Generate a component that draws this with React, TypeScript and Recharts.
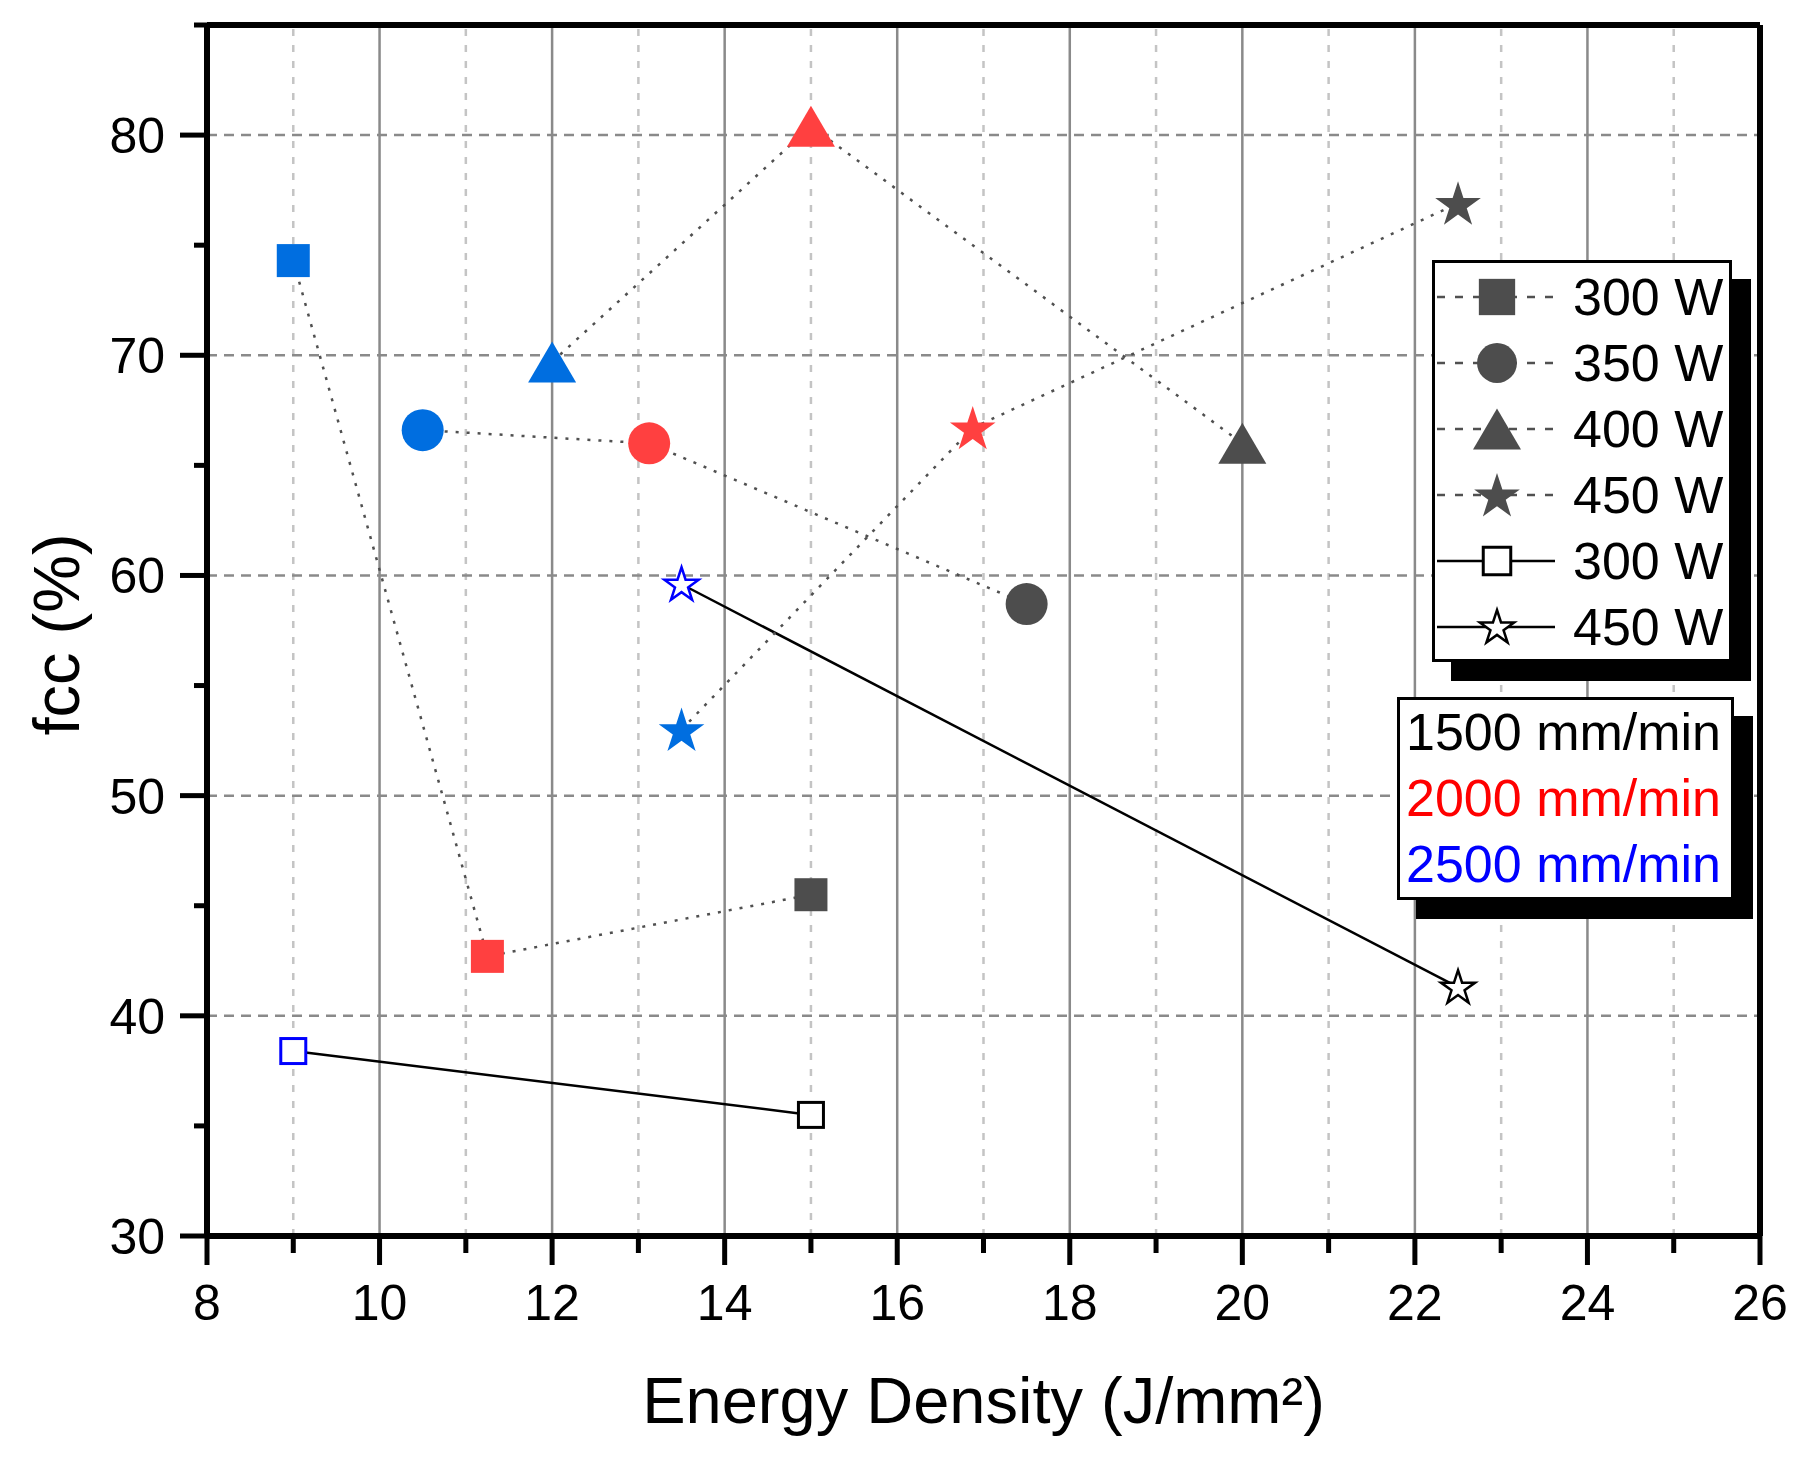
import React from 'react';
import { ScatterChart, Scatter, XAxis, YAxis, ReferenceLine, Legend, Label } from 'recharts';

const FONT = '"Liberation Sans", Arial, Helvetica, sans-serif';

// axis ticks
const xMajorTicks = [8, 10, 12, 14, 16, 18, 20, 22, 24, 26];
const xMinorTicks = [9, 11, 13, 15, 17, 19, 21, 23, 25];
const yMajorTicks = [30, 40, 50, 60, 70, 80];
const yMinorTicks = [35, 45, 55, 65, 75, 85];

// speed labels for the second legend
const speedLabels = ['1500 mm/min', '2000 mm/min', '2500 mm/min'];
const speedValues = [1500, 2000, 2500];

// filled symbols, points ordered 2500 -> 2000 -> 1500 mm/min
const pointSpeeds = [2500, 2000, 1500];
const p300Energy = [9, 11.25, 15];
const p300Fcc = [74.3, 42.7, 45.5];
const p350Energy = [10.5, 13.125, 17.5];
const p350Fcc = [66.6, 66.0, 58.7];
const p400Energy = [12, 15, 20];
const p400Fcc = [69.7, 80.4, 66.0];
const p450Energy = [13.5, 16.875, 22.5];
const p450Fcc = [53.0, 66.7, 76.9];

// open symbols, 2500 -> 1500 mm/min
const openSpeeds = [2500, 1500];
const o300Energy = [9, 15];
const o300Fcc = [38.4, 35.5];
const o450Energy = [13.5, 22.5];
const o450Fcc = [59.6, 41.3];

const powerLabels = ['300 W', '350 W', '400 W', '450 W', '300 W', '450 W'];

const toPoints = (energy: number[], fcc: number[], spd: number[]) =>
  energy.map((e, i) => ({ energy: e, fcc: fcc[i], speed: spd[i] }));

const fillBySpeed: Record<number, string> = { 1500: '#4d4d4d', 2000: '#ff4040', 2500: '#006ee0' };
const outlineBySpeed: Record<number, string> = { 1500: '#000000', 2000: '#ff0000', 2500: '#0000ff' };
const textBySpeed: Record<number, string> = { 1500: '#000000', 2000: '#ff0000', 2500: '#0000ff' };

const starPath = (cx: number, cy: number, R: number) => {
  const r = R * 0.382;
  let d = '';
  for (let k = 0; k < 10; k++) {
    const rad = k % 2 === 0 ? R : r;
    const a = -Math.PI / 2 + (k * Math.PI) / 5;
    d += (k === 0 ? 'M' : 'L') + (cx + rad * Math.cos(a)).toFixed(2) + ',' + (cy + rad * Math.sin(a)).toFixed(2);
  }
  return d + 'Z';
};

const Marker = ({ kind, cx, cy, color, legend }: any) => {
  const k = legend ? 1.1 : 1;
  if (kind === 'square') {
    const s = 33 * k;
    return <rect x={cx - s / 2} y={cy - s / 2} width={s} height={s} fill={color} />;
  }
  if (kind === 'circle') return <circle cx={cx} cy={cy} r={21 * (legend ? 0.95 : 1)} fill={color} />;
  if (kind === 'triangle') {
    const w = 48, h = 41;
    return <path d={`M${cx},${cy - h / 2}L${cx + w / 2},${cy + h / 2}L${cx - w / 2},${cy + h / 2}Z`} fill={color} />;
  }
  if (kind === 'star') return <path d={starPath(cx, cy + 2, 24)} fill={color} />;
  if (kind === 'osquare') {
    const s = 25 * k;
    return <rect x={cx - s / 2} y={cy - s / 2} width={s} height={s} fill="#fff" stroke={color} strokeWidth={3} />;
  }
  return <path d={starPath(cx, cy + 1, 18)} fill="#fff" stroke={color} strokeWidth={2.5} strokeLinejoin="miter" />;
};

const XTick = (props: any) => {
  const { x, y, payload } = props;
  const major = xMajorTicks.includes(payload.value);
  return (
    <g>
      <line x1={x} y1={y} x2={x} y2={y + (major ? 29 : 17)} stroke="#000" strokeWidth={5} />
      {major && (
        <text x={x} y={y + 84} textAnchor="middle" fontSize={50} fontFamily={FONT} fill="#000">
          {payload.value}
        </text>
      )}
    </g>
  );
};

const YTick = (props: any) => {
  const { x, y, payload } = props;
  const major = yMajorTicks.includes(payload.value);
  return (
    <g>
      <line x1={x} y1={y} x2={x - (major ? 27 : 13)} y2={y} stroke="#000" strokeWidth={5} />
      {major && (
        <text x={x - 42} y={y} dy="0.36em" textAnchor="end" fontSize={50} fontFamily={FONT} fill="#000">
          {payload.value}
        </text>
      )}
    </g>
  );
};

const XTitle = (props: any) => {
  const { viewBox } = props;
  return (
    <text x={viewBox.x + viewBox.width / 2} y={viewBox.y + 187} textAnchor="middle" fontSize={65} fontFamily={FONT} fill="#000">
      Energy Density (J/mm²)
    </text>
  );
};

const YTitle = (props: any) => {
  const { viewBox } = props;
  const cy = viewBox.y + viewBox.height / 2 + 4;
  return (
    <text x={71} y={cy} transform={`rotate(-90, 71, ${cy})`} textAnchor="middle" fontSize={65} fontFamily={FONT} fill="#000">
      fcc (%)
    </text>
  );
};

const legendKinds = ['square', 'circle', 'triangle', 'star', 'osquare', 'ostar'];

const renderLegend = () => (
  <div style={{ position: 'relative', fontFamily: FONT, color: '#000' }}>
    <div
      style={{
        position: 'absolute', left: 1424, top: 252, width: 300, height: 402,
        border: '3px solid #000', boxShadow: '19px 19px 0 #000', background: '#fff', boxSizing: 'border-box',
      }}
    >
      {powerLabels.map((label, i) => {
        const solid = i >= 4;
        return (
          <div key={i} style={{ position: 'absolute', left: 0, top: 34 + i * 66 - 33, height: 66, width: 294 }}>
            <svg width={130} height={66} style={{ position: 'absolute', left: 0, top: 0 }}>
              <line
                x1={2} y1={33} x2={120} y2={33}
                stroke={solid ? '#000' : '#505050'}
                strokeWidth={solid ? 2.5 : 2.5}
                strokeDasharray={solid ? undefined : '8 10'}
              />
              <Marker kind={legendKinds[i]} cx={62} cy={33} color={solid ? '#000' : '#4d4d4d'} legend />
            </svg>
            <div style={{ position: 'absolute', left: 138, top: 0, lineHeight: '66px', fontSize: 52, whiteSpace: 'nowrap' }}>{label}</div>
          </div>
        );
      })}
    </div>
    <div
      style={{
        position: 'absolute', left: 1389, top: 689, width: 337, height: 203,
        border: '3px solid #000', boxShadow: '19px 19px 0 #000', background: '#fff', boxSizing: 'border-box',
      }}
    >
      {speedLabels.map((label, i) => (
        <div
          key={label}
          style={{
            position: 'absolute', left: 6, top: 32 + i * 66 - 33, lineHeight: '66px',
            fontSize: 52, whiteSpace: 'nowrap', color: textBySpeed[speedValues[i]],
          }}
        >
          {label}
        </div>
      ))}
    </div>
  </div>
);

const dottedLine = { stroke: '#505050', strokeWidth: 2.5, strokeDasharray: '3 8' };
const solidLine = { stroke: '#000', strokeWidth: 2.5 };

const App = () => {
  const allXTicks = [...xMajorTicks, ...xMinorTicks].sort((a, b) => a - b);
  const allYTicks = [...yMajorTicks, ...yMinorTicks].sort((a, b) => a - b);

  const shapeFor = (kind: string, open?: boolean) => (p: any) =>
    <Marker kind={kind} cx={p.cx} cy={p.cy} color={open ? outlineBySpeed[p.payload.speed] : fillBySpeed[p.payload.speed]} />;

  return (
    <div style={{ width: 1790, height: 1440, background: '#fff' }}>
      <ScatterChart width={1790} height={1440} margin={{ top: 17, right: 38, bottom: 112, left: 79 }}>
        <XAxis
          type="number"
          dataKey="energy"
          domain={[8, 26]}
          ticks={allXTicks}
          interval={0}
          height={100}
          tickSize={0}
          tickMargin={0}
          tickLine={false}
          tick={<XTick />}
          axisLine={{ stroke: '#000', strokeWidth: 6 }}
          allowDataOverflow
        >
          <Label content={<XTitle />} />
        </XAxis>
        <YAxis
          type="number"
          dataKey="fcc"
          domain={[30, 85]}
          ticks={allYTicks}
          interval={0}
          width={120}
          tickSize={0}
          tickMargin={0}
          tickLine={false}
          tick={<YTick />}
          axisLine={{ stroke: '#000', strokeWidth: 6 }}
          allowDataOverflow
        >
          <Label content={<YTitle />} />
        </YAxis>

        {xMinorTicks.map((v) => (
          <ReferenceLine key={'xm' + v} x={v} stroke="#c4c4c4" strokeWidth={2.5} strokeDasharray="7 9" />
        ))}
        {xMajorTicks.slice(1, -1).map((v) => (
          <ReferenceLine key={'xM' + v} x={v} stroke="#8a8a8a" strokeWidth={2.5} />
        ))}
        {yMajorTicks.slice(1).map((v) => (
          <ReferenceLine key={'yM' + v} y={v} stroke="#8a8a8a" strokeWidth={2.5} strokeDasharray="10 7" />
        ))}
        <ReferenceLine y={85} stroke="#000" strokeWidth={6} />
        <ReferenceLine x={26} stroke="#000" strokeWidth={6} />

        <Scatter data={toPoints(o300Energy, o300Fcc, openSpeeds)} line={solidLine} lineType="joint" shape={shapeFor('osquare', true)} isAnimationActive={false} />
        <Scatter data={toPoints(o450Energy, o450Fcc, openSpeeds)} line={solidLine} lineType="joint" shape={shapeFor('ostar', true)} isAnimationActive={false} />
        <Scatter data={toPoints(p300Energy, p300Fcc, pointSpeeds)} line={dottedLine} lineType="joint" shape={shapeFor('square')} isAnimationActive={false} />
        <Scatter data={toPoints(p350Energy, p350Fcc, pointSpeeds)} line={dottedLine} lineType="joint" shape={shapeFor('circle')} isAnimationActive={false} />
        <Scatter data={toPoints(p400Energy, p400Fcc, pointSpeeds)} line={dottedLine} lineType="joint" shape={shapeFor('triangle')} isAnimationActive={false} />
        <Scatter data={toPoints(p450Energy, p450Fcc, pointSpeeds)} line={dottedLine} lineType="joint" shape={shapeFor('star')} isAnimationActive={false} />

        <Legend
          layout="vertical"
          align="center"
          verticalAlign="middle"
          wrapperStyle={{ left: 0, top: 0, width: 0, height: 0 }}
          content={renderLegend}
        />
      </ScatterChart>
    </div>
  );
};

export default App;
